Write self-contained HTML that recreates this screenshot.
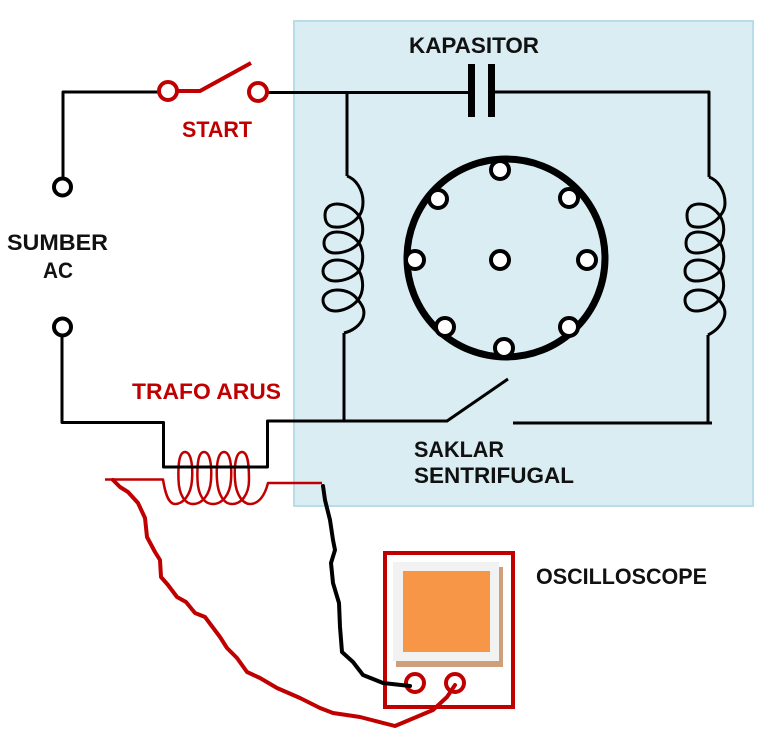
<!DOCTYPE html>
<html>
<head>
<meta charset="utf-8">
<style>
html,body{margin:0;padding:0;background:#fff;}
svg{display:block;filter:blur(.35px);}
text{font-family:"Liberation Sans",sans-serif;font-weight:bold;font-size:22px;}
</style>
</head>
<body>
<svg width="776" height="741" viewBox="0 0 776 741" xmlns="http://www.w3.org/2000/svg">
<rect x="294" y="21" width="459" height="485" fill="#daedf3" stroke="#b7dde8" stroke-width="2"/>

<!-- current transformer secondary -->
<path fill="none" stroke="#c00000" stroke-width="2.500" stroke-linejoin="round" d="M105 479.500H163C165 492 168 504 175 504C183 504 191 495 192 480C193 465 191 452 185 452C179 452 178 465 178.500 480C179 495 185 504 193 504C202 504 210 495 211 480C212 465 210 452 204 452C198 452 197 465 197.500 480C198 495 204 504 213 504C222 504 230 495 231 480C232 465 230 452 224 452C218 452 216 465 217 480C218 495 224 504 232 504C241 504 249 495 249 480C249 465 248 452 242 452C236 452 234 465 235 480C236 495 243 504 250 504C259 504 265 495 268 483H322"/>

<!-- black wiring -->
<g fill="none" stroke="#000" stroke-width="3" stroke-linejoin="round">
<path d="M160 92H63V178"/>
<path d="M267 92.500H470"/>
<path d="M347 92V176"/>
<path d="M491 92H709V177"/>
<path d="M62 336V422.500H163.500V467H267.500V421H447L508 379"/>
<path d="M344 333V422"/>
<path d="M708 335V423"/>
<path d="M513 423H712"/>
<!-- left coil -->
<path d="M347 176C356 179 363 190 363 202C363 208 362 212 359 216C353 224 343 228 335 227C328 227 325 222 325 215C325 208 330 204 337 204C346 204 354 209 359 216C364 224 364 235 359 243C353 250 343 253 335 253C328 253 324 249 324 243C324 236 330 232 337 232C346 232 354 236 359 243C364 251 364 263 359 271C353 278 343 281 335 281C328 281 323 277 323 271C323 264 330 260 337 260C346 260 354 264 359 271C364 280 364 292 358 300C352 307 343 311 335 311C328 311 323 306 323 300C323 294 330 290 337 290C346 290 353 293 358 300C364 307 365 312 363 318C360 326 352 331 344 333"/>
<!-- right coil -->
<path d="M709 177C718 180 725 191 725 203C725 209 723 212 720 216C714 224 704 228 696 227C689 227 687 222 687 215C687 208 692 204 699 204C708 204 715 209 720 216C725 224 725 235 720 243C714 250 704 253 696 253C689 253 686 249 686 243C686 236 691 232 698 232C707 232 715 236 720 243C725 251 725 263 720 271C714 278 704 281 696 281C689 281 685 277 685 271C685 264 691 260 698 260C707 260 715 264 720 271C725 280 725 292 719 300C713 307 704 311 696 311C689 311 685 306 685 300C685 294 691 290 698 290C707 290 714 293 719 300C725 307 726 312 724 318C721 326 716 331 708 335"/>
</g>

<!-- capacitor -->
<rect x="468" y="64" width="7" height="53" fill="#000"/>
<rect x="488" y="64" width="7" height="53" fill="#000"/>

<!-- terminals -->
<g fill="#fff" stroke="#000" stroke-width="4">
<circle cx="62.500" cy="187" r="8.500"/>
<circle cx="62.500" cy="327" r="8.500"/>
</g>

<!-- rotor -->
<circle cx="506" cy="258" r="99" fill="none" stroke="#000" stroke-width="7"/>
<g fill="#fff" stroke="#000" stroke-width="4">
<circle cx="500" cy="170" r="9"/>
<circle cx="438" cy="199" r="9"/>
<circle cx="569" cy="198" r="9"/>
<circle cx="415" cy="260" r="9"/>
<circle cx="500" cy="260" r="9"/>
<circle cx="587" cy="260" r="9"/>
<circle cx="445" cy="327" r="9"/>
<circle cx="569" cy="327" r="9"/>
<circle cx="504" cy="348" r="9"/>
</g>

<!-- start switch -->
<g fill="none" stroke="#c00000" stroke-width="4">
<path d="M177 91H200L251 63"/>
<circle cx="168" cy="91" r="9" fill="#fff"/>
<circle cx="258" cy="92" r="9" fill="#fff"/>
</g>

<!-- oscilloscope -->
<rect x="385" y="553" width="128" height="154" fill="#fff" stroke="#c00000" stroke-width="4"/>
<rect x="396" y="567" width="107" height="100" fill="#cf9e7a"/>
<rect x="393" y="562" width="106" height="99" fill="#f2f2f2"/>
<rect x="403" y="571" width="87" height="81" fill="#f79646"/>
<g fill="none" stroke="#c00000" stroke-width="4">
<circle cx="415" cy="683" r="9"/>
<circle cx="455" cy="683" r="9"/>
</g>

<!-- probe wires -->
<path fill="none" stroke="#000" stroke-width="4" stroke-linejoin="round" stroke-linecap="round" d="M323 486L325 500L330 520L333 540L335 550L331 563L333 583L339 603L340 627L342 652L353 662L363 675L383 683L410 686"/>
<path fill="none" stroke="#c00000" stroke-width="4" stroke-linejoin="round" stroke-linecap="round" d="M113 480L120 487L128 492L138 503L145 518L147 537L155 552L160 560L161 577L168 585L177 597L186 602L195 613L205 617L220 637L227 648L237 658L247 672L260 678L277 688L300 698L320 708L333 713L360 717L395 726L433 710L447 697L455 685"/>

<!-- labels -->
<text x="409" y="53" fill="#111" textLength="130" lengthAdjust="spacingAndGlyphs">KAPASITOR</text>
<text x="182" y="137" fill="#c00000" textLength="70" lengthAdjust="spacingAndGlyphs">START</text>
<text x="7" y="250" fill="#111" textLength="101" lengthAdjust="spacingAndGlyphs">SUMBER</text>
<text x="43" y="278" fill="#111" textLength="30" lengthAdjust="spacingAndGlyphs">AC</text>
<text x="132" y="399" fill="#c00000" textLength="149" lengthAdjust="spacingAndGlyphs">TRAFO ARUS</text>
<text x="414" y="457" fill="#111" textLength="90" lengthAdjust="spacingAndGlyphs">SAKLAR</text>
<text x="414" y="483" fill="#111" textLength="160" lengthAdjust="spacingAndGlyphs">SENTRIFUGAL</text>
<text x="536" y="584" fill="#111" textLength="171" lengthAdjust="spacingAndGlyphs">OSCILLOSCOPE</text>
</svg>
</body>
</html>
